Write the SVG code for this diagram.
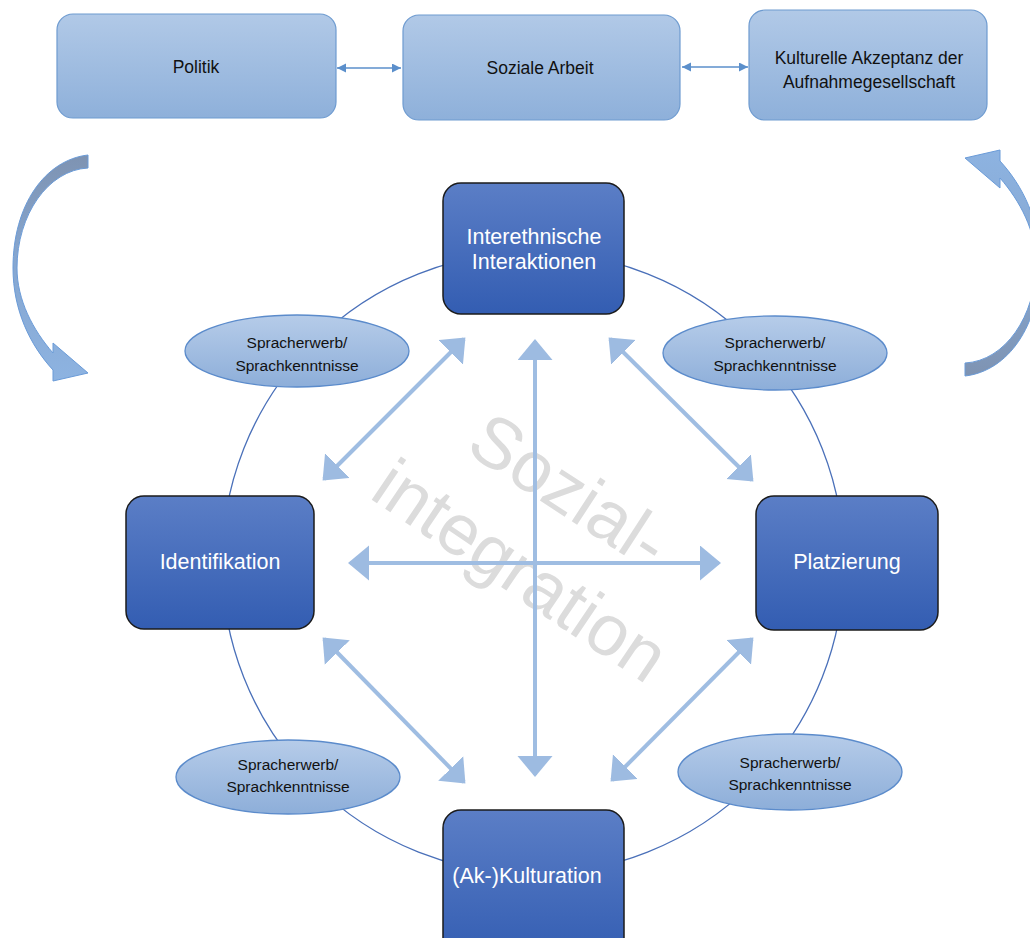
<svg xmlns="http://www.w3.org/2000/svg" width="1030" height="938" viewBox="0 0 1030 938">
<defs>
<style>
.top{fill:url(#gTop);stroke:#6E9BD0;stroke-width:1.2}
.big{fill:url(#gBig);stroke:#1B1B1B;stroke-width:1.5}
.ell{fill:url(#gEll);stroke:#5B8BCB;stroke-width:1.3}
.t1{font-family:"Liberation Sans",Arial,sans-serif;font-size:17.5px;fill:#111;text-anchor:middle}
.t2{font-family:"Liberation Sans",Arial,sans-serif;font-size:21.5px;fill:#fff;text-anchor:middle}
.t3{font-family:"Liberation Sans",Arial,sans-serif;font-size:15.5px;fill:#111;text-anchor:middle}
.wm{font-family:"Liberation Sans",Arial,sans-serif;font-size:72px;fill:#DCDCDC;text-anchor:middle}
.ba{stroke:#9FBDE2;stroke-width:4;fill:none;marker-start:url(#ah);marker-end:url(#ah)}
.sa{stroke:#5B8FCB;stroke-width:1.5;fill:none;marker-start:url(#sh);marker-end:url(#sh)}
.curv{fill:url(#gCurve);stroke:#6A9BD8;stroke-width:1}
</style>
<linearGradient id="gTop" x1="0" y1="0" x2="0" y2="1"><stop offset="0" stop-color="#B1C9E7"/><stop offset="1" stop-color="#8EB0DA"/></linearGradient>
<linearGradient id="gBig" x1="0" y1="0" x2="0" y2="1"><stop offset="0" stop-color="#5B7EC6"/><stop offset="1" stop-color="#335DB2"/></linearGradient>
<linearGradient id="gEll" x1="0" y1="0" x2="0" y2="1"><stop offset="0" stop-color="#B6CCE9"/><stop offset="1" stop-color="#8DAED9"/></linearGradient>
<linearGradient id="gCurve" x1="0" y1="0" x2="0" y2="1"><stop offset="0" stop-color="#7E93B2"/><stop offset="0.45" stop-color="#86A6CF"/><stop offset="1" stop-color="#8DB3E1"/></linearGradient>
<marker id="ah" markerUnits="userSpaceOnUse" viewBox="0 0 22 36" markerWidth="22" markerHeight="36" refX="19" refY="17.5" orient="auto-start-reverse"><path d="M0,0 L21,17.5 L0,35 Z" fill="#9DBBE1"/></marker>
<marker id="sh" markerUnits="userSpaceOnUse" viewBox="0 0 10 10" markerWidth="10" markerHeight="10" refX="9" refY="4.5" orient="auto-start-reverse"><path d="M0,0 L9,4.5 L0,9 Z" fill="#5B8FCB"/></marker>
</defs>

<g id="sidearrows">
<path id="curve-left" class="curv" d="M88,155 C45,160 13,205 13,268 C13,310 30,345 53,370 L53,381 L88,373 L53,343 L53,353 C33,330 17,300 17,268 C17,215 48,170 88,168 Z"/>
<path id="curve-right" class="curv" transform="rotate(180 526.5 265.5)" d="M88,155 C45,160 13,205 13,268 C13,310 30,345 53,370 L53,381 L88,373 L53,343 L53,353 C33,330 17,300 17,268 C17,215 48,170 88,168 Z"/>
</g>

<g id="ring"><circle cx="533" cy="563" r="311" fill="none" stroke="#4A70B9" stroke-width="1.3"/></g>

<g id="watermark">
<text class="wm" transform="translate(556,511) rotate(33)">Sozial-</text>
<text class="wm" transform="translate(507,591) rotate(34)">integration</text>
</g>

<g id="connectors">
<line class="sa" x1="337" y1="68" x2="401" y2="68"/>
<line class="sa" x1="682" y1="67" x2="748" y2="67"/>
<line class="ba" x1="535" y1="341" x2="535" y2="775"/>
<line class="ba" x1="350" y1="563" x2="719" y2="563"/>
<line class="ba" x1="464" y1="339" x2="324" y2="479"/>
<line class="ba" x1="610" y1="339" x2="752" y2="480"/>
<line class="ba" x1="324" y1="639" x2="464" y2="782"/>
<line class="ba" x1="752" y1="639" x2="612" y2="780"/>
</g>

<g id="politik"><rect class="top" x="57" y="14" width="279" height="104" rx="16"/><text class="t1" x="196" y="73">Politik</text></g>
<g id="soziale-arbeit"><rect class="top" x="403" y="15" width="277" height="105" rx="16"/><text class="t1" x="540" y="74">Soziale Arbeit</text></g>
<g id="kulturelle-akzeptanz"><rect class="top" x="749" y="10" width="238" height="110" rx="16"/><text class="t1" x="869" y="64">Kulturelle Akzeptanz der</text><text class="t1" x="869" y="88">Aufnahmegesellschaft</text></g>

<g id="ell-tl"><ellipse class="ell" cx="297" cy="351" rx="112" ry="36"/><text class="t3" x="297" y="348">Spracherwerb/</text><text class="t3" x="297" y="371">Sprachkenntnisse</text></g>
<g id="ell-tr"><ellipse class="ell" cx="775" cy="353" rx="112" ry="37"/><text class="t3" x="775" y="348">Spracherwerb/</text><text class="t3" x="775" y="371">Sprachkenntnisse</text></g>
<g id="ell-bl"><ellipse class="ell" cx="288" cy="777" rx="112" ry="37"/><text class="t3" x="288" y="770">Spracherwerb/</text><text class="t3" x="288" y="792">Sprachkenntnisse</text></g>
<g id="ell-br"><ellipse class="ell" cx="790" cy="772" rx="112" ry="38"/><text class="t3" x="790" y="768">Spracherwerb/</text><text class="t3" x="790" y="790">Sprachkenntnisse</text></g>

<g id="interethnische"><rect class="big" x="443" y="183" width="181" height="131" rx="18"/><text class="t2" x="534" y="244">Interethnische</text><text class="t2" x="534" y="269">Interaktionen</text></g>
<g id="identifikation"><rect class="big" x="126" y="496" width="188" height="133" rx="18"/><text class="t2" x="220" y="569">Identifikation</text></g>
<g id="platzierung"><rect class="big" x="756" y="496" width="182" height="134" rx="18"/><text class="t2" x="847" y="569">Platzierung</text></g>
<g id="akkulturation"><rect class="big" x="443" y="810" width="181" height="150" rx="18"/><text class="t2" x="527" y="883">(Ak-)Kulturation</text></g>
</svg>
